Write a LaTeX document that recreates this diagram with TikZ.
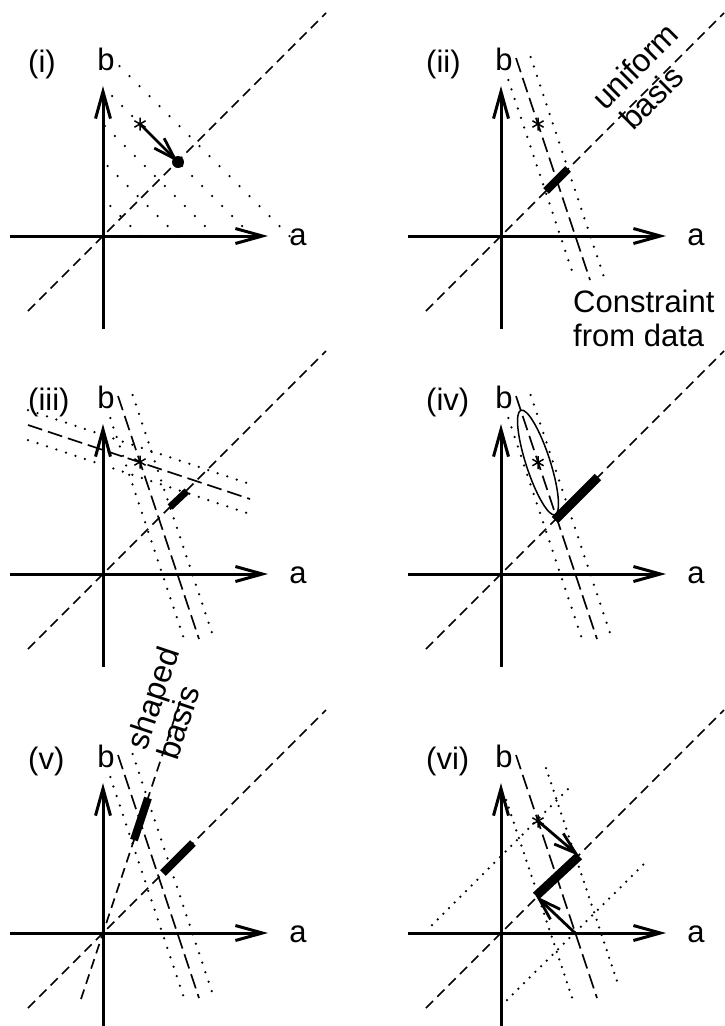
\documentclass[tikz,border=0pt]{standalone}
\usepackage{fontspec}
\setmainfont{Liberation Sans}
\usetikzlibrary{arrows.meta}
\tikzset{
  axisline/.style={line width=3pt, -{Straight Barb[length=27pt,width=15pt]}},
  diagline/.style={line width=1.6pt, dash pattern=on 10pt off 6pt},
  longdash/.style={line width=1.6pt, dash pattern=on 15pt off 6pt},
  dotline/.style={line width=2.5pt, line cap=round, dash pattern=on 0pt off 10pt},
  gridline/.style={line width=2.5pt, line cap=round, dash pattern=on 0pt off 14.14pt},
  thinnerdots/.style={line width=2.5pt, line cap=round, dash pattern=on 0pt off 8pt},
  barline/.style={line width=8pt},
  vecline/.style={line width=2.8pt, -{Straight Barb[length=22pt,width=14pt]}},
  lbl/.style={font=\fontsize{31}{33}\selectfont, inner sep=0pt},
  rlbl/.style={font=\fontsize{32}{34}\selectfont, inner sep=0pt},
  asterisk/.pic={\draw[line width=1.5pt] (0,-6.5)--(0,6.5) (-5.6,-3.25)--(5.6,3.25) (-5.6,3.25)--(5.6,-3.25);}
}
\newcommand\panelbase[1]{%
  \coordinate (xl) at (-93,0); \coordinate (xr) at (165,0);
  \coordinate (yb) at (0,-93); \coordinate (yt) at (0,150);
  \coordinate (dl) at (-75,-75); \coordinate (du) at (223,223);
  \draw[diagline] (dl) -- (du);
  \draw[axisline] (xl) -- (xr);
  \draw[axisline] (yb) -- (yt);
  \node[lbl, anchor=base] (blabel) at (3,166) {b};
  \node[lbl, anchor=base] (alabel) at (195,-9) {a};
  \node[lbl, anchor=base west] (plabel) at (-75,164) {#1};
}
\newcommand\steepband{%
  \draw[dotline] (7.33,156) -- (80.67,-64);
  \draw[dotline] (29.67,179) -- (110.67,-64);
  \draw[longdash] (15,178) -- (96,-65);
}
\begin{document}
\begin{tikzpicture}[x=1pt,y=1pt]
\useasboundingbox (0,-1026) rectangle (724,0);

% ---------- (i)
\begin{scope}[shift={(103,-236)}, name prefix=p1-]
  \foreach \c in {37.3,74.6,111.9,149.2,186.5} \draw[gridline] (\c,0) -- (0,\c);
  \panelbase{(i)}
  \coordinate (st) at (37,112);
  \coordinate (pr) at (75,74);
  \pic at (st) {asterisk};
  \draw[vecline] (st) -- (pr);
  \fill (pr) circle (6pt);
\end{scope}

% ---------- (ii)
\begin{scope}[shift={(501,-236)}, name prefix=p2-]
  \draw[dotline] (7.33,156) -- (73.33,-42);
  \draw[dotline] (29.67,179) -- (103.33,-42);
  \draw[longdash] (15,178) -- (89,-44);
  \panelbase{(ii)}
  \coordinate (b1) at (45,45); \coordinate (b2) at (67,67);
  \draw[barline] (b1) -- (b2);
  \pic at (37,112) {asterisk};
  \node[rlbl, rotate=45, anchor=base west] (uni) at (104,124) {uniform};
  \node[rlbl, rotate=45, anchor=base west] (bas) at (132,104) {basis};
  \node[lbl, anchor=base west] (con1) at (72,-76) {Constraint};
  \node[lbl, anchor=base west] (con2) at (72,-110) {from data};
\end{scope}

% ---------- (iii)
\begin{scope}[shift={(103,-574)}, name prefix=p3-]
  \steepband
  \draw[dotline] (-75,164) -- (147,90);
  \draw[dotline] (-75,134) -- (147,60);
  \draw[longdash] (-75,149) -- (147,75);
  \panelbase{(iii)}
  \coordinate (b1) at (67,67); \coordinate (b2) at (84,83);
  \draw[barline, line width=7pt] (b1) -- (b2);
  \pic at (37,112) {asterisk};
\end{scope}

% ---------- (iv)
\begin{scope}[shift={(501,-574)}, name prefix=p4-]
  \steepband
  \panelbase{(iv)}
  \coordinate (ec) at (37,111.5);
  \draw[line width=1.5pt, rotate around={-72:(ec)}] (ec) ellipse (55pt and 12pt);
  \coordinate (b1) at (54,54); \coordinate (b2) at (97,97);
  \draw[barline, line width=9pt] (b1) -- (b2);
  \pic at (ec) {asterisk};
\end{scope}

% ---------- (v)
\begin{scope}[shift={(103,-933)}, name prefix=p5-]
  \steepband
  \coordinate (sl) at (-22,-66); \coordinate (su) at (79,237);
  \draw[diagline] (sl) -- (su);
  \panelbase{(v)}
  \coordinate (s1) at (31,93); \coordinate (s2) at (45,135);
  \draw[barline] (s1) -- (s2);
  \coordinate (b1) at (60,60); \coordinate (b2) at (90,90);
  \draw[barline] (b1) -- (b2);
  \node[rlbl, rotate=71.57, anchor=base west] (shp) at (43.6,181.6) {shaped};
  \node[rlbl, rotate=71.57, anchor=base west] (sbs) at (74,171.4) {basis};
\end{scope}

% ---------- (vi)
\begin{scope}[shift={(501,-933)}, name prefix=p6-]
  \draw[thinnerdots] (-69,8) -- (72,149);
  \draw[thinnerdots] (6,-67) -- (147,73);
  \draw[thinnerdots] (45,165) -- (118.3,-55);
  \draw[thinnerdots] (5.2,133) -- (72.8,-70);
  \draw[longdash] (15,178) -- (96,-65);
  \panelbase{(vi)}
  \coordinate (st) at (37,112);
  \coordinate (pu) at (78,77);
  \coordinate (pl) at (35,37);
  \coordinate (ax) at (74,0);
  \draw[barline, line width=9pt] (pu) -- (pl);
  \pic at (st) {asterisk};
  \draw[vecline] (st) -- (pu);
  \draw[vecline] (ax) -- (pl);
\end{scope}
\end{tikzpicture}
\end{document}
